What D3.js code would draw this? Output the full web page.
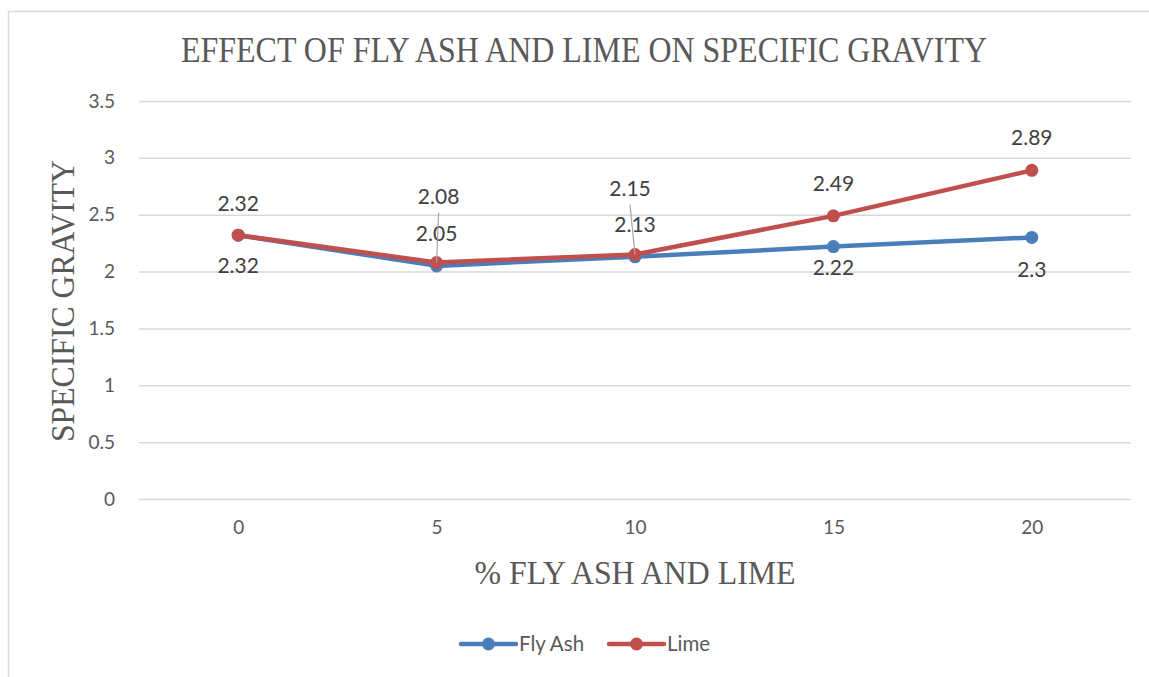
<!DOCTYPE html>
<html>
<head>
<meta charset="utf-8">
<script src="https://cdn.jsdelivr.net/npm/d3@7"></script>
<style>
  html, body { margin: 0; padding: 0; background: #fff; }
  svg { display: block; }
</style>
</head>
<body>
<svg id="chart" width="1149" height="677"></svg>
<script>
// Percent of additive
const categories = ["0", "5", "10", "15", "20"];
// Specific gravity per series
const flyAshValues = [2.32, 2.05, 2.13, 2.22, 2.3];
const limeValues = [2.32, 2.08, 2.15, 2.49, 2.89];
const yTicks = [0, 0.5, 1, 1.5, 2, 2.5, 3, 3.5];
const seriesNames = ["Fly Ash", "Lime"];

// Label placement (offset of label centre from its point, plus leader line flag)
const flyAshLabelLayout = [
  { dx: 0, dy: 30 }, { dx: 0, dy: -32 }, { dx: 0, dy: -32 }, { dx: 0, dy: 21 }, { dx: 0, dy: 32 }
];
const limeLabelLayout = [
  { dx: 0, dy: -32 }, { dx: 2, dy: -66, leader: true }, { dx: -5, dy: -66, leader: true }, { dx: 0, dy: -32 }, { dx: 0, dy: -33 }
];

const W = 1149, H = 677;
const plot = { left: 139, right: 1131, top: 101, bottom: 499 };
const colors = { "Fly Ash": "#4A7EBB", "Lime": "#C0504D" };
const textColor = "#595959";
const gridColor = "#d9d9d9";
const sansFont = "Lato, 'Open Sans', sans-serif";
const serifFont = "'Liberation Serif', 'DejaVu Serif', serif";

const svg = d3.select("#chart");

// Outer chart border
svg.append("rect")
  .attr("x", 8.5).attr("y", 11.5)
  .attr("width", W + 10).attr("height", H - 12 + 10)
  .attr("fill", "#fff").attr("stroke", gridColor).attr("stroke-width", 1.5);

const x = d3.scalePoint().domain(categories).range([plot.left, plot.right]).padding(0.5);
const y = d3.scaleLinear().domain([0, 3.5]).range([plot.bottom, plot.top]);

// Horizontal gridlines and y tick labels
const yAxis = d3.axisLeft(y).tickValues(yTicks).tickSize(-(plot.right - plot.left)).tickPadding(24)
  .tickFormat(d => String(d));
const gy = svg.append("g").attr("transform", `translate(${plot.left},0)`).call(yAxis);
gy.select(".domain").remove();
gy.selectAll(".tick line").attr("stroke", gridColor).attr("stroke-width", 1.5);
gy.selectAll(".tick text").attr("fill", textColor).attr("font-family", sansFont).attr("font-size", 19);

// X tick labels
const xAxis = d3.axisBottom(x).tickSize(0).tickPadding(22);
const gx = svg.append("g").attr("transform", `translate(0,${plot.bottom})`).call(xAxis);
gx.select(".domain").remove();
gx.selectAll(".tick text").attr("fill", textColor).attr("font-family", sansFont).attr("font-size", 19);

// Title and axis titles
svg.append("text")
  .attr("x", 584).attr("y", 62)
  .attr("text-anchor", "middle")
  .attr("font-family", serifFont).attr("font-size", 35).attr("fill", textColor)
  .attr("textLength", 806).attr("lengthAdjust", "spacingAndGlyphs")
  .text("EFFECT OF FLY ASH AND LIME ON SPECIFIC GRAVITY");

svg.append("text")
  .attr("transform", "translate(74,301) rotate(-90)")
  .attr("text-anchor", "middle")
  .attr("font-family", serifFont).attr("font-size", 34).attr("fill", textColor)
  .attr("textLength", 282).attr("lengthAdjust", "spacingAndGlyphs")
  .text("SPECIFIC GRAVITY");

svg.append("text")
  .attr("x", 635).attr("y", 584)
  .attr("text-anchor", "middle")
  .attr("font-family", serifFont).attr("font-size", 34).attr("fill", textColor)
  .attr("textLength", 321).attr("lengthAdjust", "spacingAndGlyphs")
  .text("% FLY ASH AND LIME");

const series = [
  { name: "Fly Ash", values: flyAshValues, layout: flyAshLabelLayout },
  { name: "Lime", values: limeValues, layout: limeLabelLayout }
];

const line = d3.line().x(d => x(d.cat)).y(d => y(d.v));

series.forEach(s => {
  const pts = s.values.map((v, i) => ({ cat: categories[i], v }));
  const g = svg.append("g");
  g.append("path").datum(pts)
    .attr("d", line)
    .attr("fill", "none")
    .attr("stroke", colors[s.name]).attr("stroke-width", 4.5)
    .attr("stroke-linejoin", "round").attr("stroke-linecap", "round");
  g.selectAll("circle").data(pts).join("circle")
    .attr("cx", d => x(d.cat)).attr("cy", d => y(d.v)).attr("r", 6.5)
    .attr("fill", colors[s.name]);
});

// Data labels with leader lines where moved away
series.forEach(s => {
  const g = svg.append("g");
  s.values.forEach((v, i) => {
    const L = s.layout[i];
    const px = x(categories[i]), py = y(v);
    const lx = px + L.dx, ly = py + L.dy;
    if (L.leader) {
      g.append("line")
        .attr("x1", lx).attr("y1", ly + 16)
        .attr("x2", px).attr("y2", py)
        .attr("stroke", "#a6a6a6").attr("stroke-width", 1.2);
    }
    g.append("text")
      .attr("x", lx).attr("y", ly)
      .attr("dy", "0.35em")
      .attr("text-anchor", "middle")
      .attr("font-family", sansFont).attr("font-size", 21).attr("fill", "#404040")
      .text(String(v));
  });
});

// Legend
const legend = svg.append("g");
const legendItems = [
  { name: seriesNames[0], x0: 461 },
  { name: seriesNames[1], x0: 609 }
];
legendItems.forEach(it => {
  const ly = 644;
  legend.append("line")
    .attr("x1", it.x0).attr("x2", it.x0 + 55).attr("y1", ly).attr("y2", ly)
    .attr("stroke", colors[it.name]).attr("stroke-width", 4.5).attr("stroke-linecap", "round");
  legend.append("circle").attr("cx", it.x0 + 27.5).attr("cy", ly).attr("r", 6.5).attr("fill", colors[it.name]);
  legend.append("text")
    .attr("x", it.x0 + 58).attr("y", ly).attr("dy", "0.35em")
    .attr("font-family", sansFont).attr("font-size", 20.5).attr("fill", textColor)
    .text(it.name);
});
</script>
</body>
</html>
